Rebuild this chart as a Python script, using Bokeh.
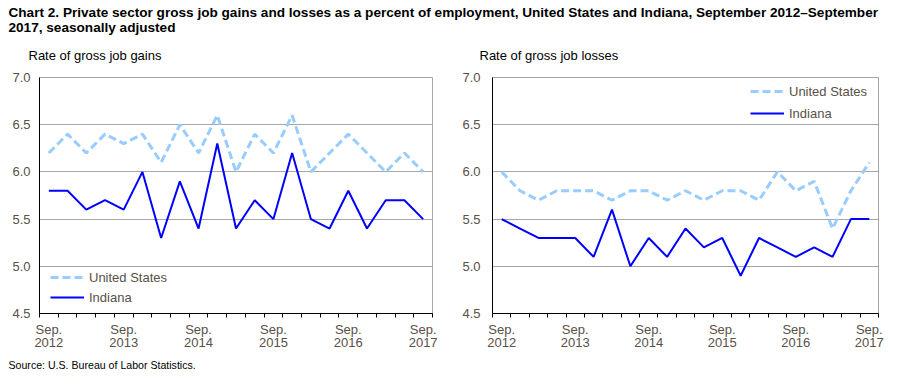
from bokeh.plotting import figure
from bokeh.models import Range1d, FixedTicker, Legend, LegendItem, Title, NumeralTickFormatter
from bokeh.layouts import column, row
from bokeh.embed import file_html
from bokeh.resources import INLINE
from bokeh.core.properties import value

FONT = "Liberation Sans"
LABEL_COLOR = "#595048"
GRID_COLOR = "#a6a6a6"
US_COLOR = "#99ccff"
IN_COLOR = "#0000ff"

title_lines = [
    "Chart 2. Private sector gross  job gains and losses  as a percent of employment, United States and Indiana, September 2012\u2013September",
    "2017, seasonally adjusted",
]
subtitles = ["Rate of gross job gains", "Rate of gross job losses"]
source_text = "Source: U.S. Bureau of Labor Statistics."

quarters = ["Sep. 2012", "Dec. 2012", "Mar. 2013", "Jun. 2013", "Sep. 2013", "Dec. 2013",
            "Mar. 2014", "Jun. 2014", "Sep. 2014", "Dec. 2014", "Mar. 2015", "Jun. 2015",
            "Sep. 2015", "Dec. 2015", "Mar. 2016", "Jun. 2016", "Sep. 2016", "Dec. 2016",
            "Mar. 2017", "Jun. 2017", "Sep. 2017"]
tick_positions = [0, 4, 8, 12, 16, 20]
tick_labels = ["Sep.\n2012", "Sep.\n2013", "Sep.\n2014", "Sep.\n2015", "Sep.\n2016", "Sep.\n2017"]
y_ticks = [4.5, 5.0, 5.5, 6.0, 6.5, 7.0]

gains_us = [6.2, 6.4, 6.2, 6.4, 6.3, 6.4, 6.1, 6.5, 6.2, 6.6, 6.0, 6.4, 6.2, 6.6, 6.0, 6.2, 6.4, 6.2, 6.0, 6.2, 6.0]
gains_in = [5.8, 5.8, 5.6, 5.7, 5.6, 6.0, 5.3, 5.9, 5.4, 6.3, 5.4, 5.7, 5.5, 6.2, 5.5, 5.4, 5.8, 5.4, 5.7, 5.7, 5.5]
losses_us = [6.0, 5.8, 5.7, 5.8, 5.8, 5.8, 5.7, 5.8, 5.8, 5.7, 5.8, 5.7, 5.8, 5.8, 5.7, 6.0, 5.8, 5.9, 5.4, 5.8, 6.1]
losses_in = [5.5, 5.4, 5.3, 5.3, 5.3, 5.1, 5.6, 5.0, 5.3, 5.1, 5.4, 5.2, 5.3, 4.9, 5.3, 5.2, 5.1, 5.2, 5.1, 5.5, 5.5]

xs = list(range(len(quarters)))
boundaries = [i - 0.5 for i in range(len(quarters) + 1)]


def make_panel(us, ind, width, height, left, right, top, bottom, legend_loc,
               label_h, ylabel_standoff, source=None):
    p = figure(width=width, height=height, x_range=Range1d(-0.5, len(quarters) - 0.5),
               y_range=Range1d(4.5, 7.0), toolbar_location=None, output_backend="svg",
               min_border_left=left, min_border_right=right, min_border_top=top,
               min_border_bottom=bottom)
    r_us = p.line(xs, us, line_color=US_COLOR, line_width=3, line_dash="8 4")
    r_in = p.line(xs, ind, line_color=IN_COLOR, line_width=2)

    p.xaxis.ticker = FixedTicker(ticks=tick_positions, minor_ticks=boundaries)
    p.xaxis.major_label_overrides = {t: l for t, l in zip(tick_positions, tick_labels)}
    p.xaxis.major_tick_line_color = None
    p.xaxis.major_tick_out = 4
    p.xaxis.major_tick_in = 0
    p.xaxis.minor_tick_line_color = "#000000"
    p.xaxis.minor_tick_in = 0
    p.xaxis.minor_tick_out = 4
    p.xaxis.major_label_standoff = 4
    p.xaxis.major_label_text_line_height = 0.9
    p.yaxis.ticker = FixedTicker(ticks=y_ticks, minor_ticks=[])
    p.yaxis.formatter = NumeralTickFormatter(format="0.0")
    p.yaxis.major_tick_line_color = None
    p.yaxis.minor_tick_line_color = None
    p.yaxis.major_tick_out = 0
    p.yaxis.major_label_standoff = ylabel_standoff
    for ax in (p.xaxis, p.yaxis):
        ax.axis_line_color = "#000000"
        ax.major_label_text_font = FONT
        ax.major_label_text_font_size = "13px"
        ax.major_label_text_color = LABEL_COLOR
    p.xgrid.visible = False
    p.ygrid.ticker = FixedTicker(ticks=y_ticks)
    p.ygrid.grid_line_color = GRID_COLOR
    p.outline_line_color = GRID_COLOR
    p.border_fill_color = "white"

    legend = Legend(items=[LegendItem(label="United States", renderers=[r_us]),
                           LegendItem(label="Indiana", renderers=[r_in])],
                    location=legend_loc, padding=3, margin=0, spacing=0,
                    glyph_width=34, glyph_height=label_h, label_height=label_h,
                    label_standoff=5, label_text_font=FONT, label_text_font_size="13px",
                    label_text_color=LABEL_COLOR, background_fill_alpha=0,
                    border_line_alpha=0)
    p.add_layout(legend, "center")
    if source:
        p.add_layout(Title(text=source, align="left", offset=-(left - 8), text_font=FONT,
                           text_font_size="10.6px", text_font_style="normal",
                           text_color="#000000", standoff=6), "below")
    return p


HDR_H = 66
hdr = figure(width=901, height=HDR_H, x_range=Range1d(0, 901), y_range=Range1d(HDR_H, 0),
             toolbar_location=None, output_backend="svg", min_border=0,
             x_axis_location=None, y_axis_location=None)
hdr.grid.visible = False
hdr.outline_line_color = None
hdr.text(x=[8, 8], y=[4.5, 19.5], text=title_lines, text_font=value(FONT), text_font_style="bold",
         text_font_size="13.6px", text_baseline="top", text_color="#000000")
hdr.text(x=[28, 479], y=[47.5, 47.5], text=subtitles, text_font=value(FONT),
         text_font_size="13px", text_baseline="top", text_color="#000000")

PH = 378 - HDR_H
p1 = make_panel(gains_us, gains_in, 456, PH, 39, 24, 76 - HDR_H,
                PH - (76 - HDR_H) - 237, (8, 3), 20, 9, source_text)
p2 = make_panel(losses_us, losses_in, 445, PH, 36, 23, 77 - HDR_H,
                PH - (77 - HDR_H) - 239, (255, 186), 22, 12)

layout = column(hdr, row(p1, p2, spacing=0), spacing=0)
open("out.html", "w").write(file_html(layout, INLINE))
